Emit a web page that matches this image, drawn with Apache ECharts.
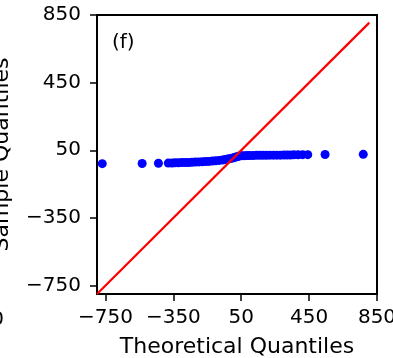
<!DOCTYPE html>
<html>
<head>
<meta charset="utf-8">
<script src="https://cdn.jsdelivr.net/npm/echarts@6/dist/echarts.min.js"></script>
<style>
html,body{margin:0;padding:0;background:#fff;}
#chart{width:393px;height:358px;}
</style>
</head>
<body>
<div id="chart"></div>
<script>
// Theoretical quantiles (x) and sample quantiles (y)
var theoretical = [-769, -534, -438, -380, -358, -340, -320, -300, -280, -260, -240, -220, -200, -180, -160, -140, -120, -100, -80, -60, -45, -30, -15, 0, 12, 25, 35, 45, 55, 70, 85, 100, 120, 140, 160, 180, 200, 220, 240, 260, 280, 300, 320, 340, 360, 385, 412, 442, 544, 769];
var sample = [-29, -28, -27, -26, -25, -24, -24, -23, -22, -22, -21, -20, -19, -18, -17, -16, -14, -12, -10, -8, -5, -2, 1, 4, 8, 12, 15, 17, 18, 18, 19, 19, 19, 20, 20, 20, 20, 21, 21, 21, 21, 22, 22, 22, 23, 23, 24, 24, 25, 26];
// reference line y = x
var refLineX = [-800, 805];
var refLineY = [-800, 805];
var xTicks = [-750, -350, 50, 450, 850];
var yTicks = [-750, -350, 50, 450, 850];
var xLabel = 'Theoretical Quantiles';
var yLabel = 'Sample Quantiles';
var panelTag = '(f)';

var pts = theoretical.map(function (x, i) { return [x, sample[i]]; });
var line = refLineX.map(function (x, i) { return [x, refLineY[i]]; });
var fam = 'DejaVu Sans';
function fmt(v) { return String(v).replace('-', '\u2212'); }

var chart = echarts.init(document.getElementById('chart'), null, {renderer: 'canvas'});
chart.setOption({
  animation: false,
  backgroundColor: '#ffffff',
  grid: {left: 97, right: 16, top: 15, bottom: 64, containLabel: false, outerBoundsMode: 'none', show: true, borderColor: '#000', borderWidth: 2, backgroundColor: 'transparent'},
  xAxis: {
    type: 'value', min: -800, max: 850,
    name: xLabel, nameLocation: 'middle', nameGap: 42,
    nameTextStyle: {fontFamily: fam, fontSize: 22, color: '#000'},
    axisLine: {show: true, onZero: false, lineStyle: {color: '#000', width: 2}},
    axisTick: {show: true, length: 7, customValues: xTicks, lineStyle: {color: '#000', width: 1.5}},
    axisLabel: {customValues: xTicks, formatter: fmt, margin: 14, fontFamily: fam, fontSize: 20, color: '#000'},
    splitLine: {show: false}
  },
  yAxis: {
    type: 'value', min: -800, max: 850,
    name: yLabel, nameLocation: 'middle', nameGap: 84, nameRotate: 90,
    nameTextStyle: {fontFamily: fam, fontSize: 22, color: '#000'},
    axisLine: {show: true, onZero: false, lineStyle: {color: '#000', width: 2}},
    axisTick: {show: true, length: 7, customValues: yTicks, lineStyle: {color: '#000', width: 1.5}},
    axisLabel: {customValues: yTicks, formatter: fmt, margin: 16, fontFamily: fam, fontSize: 20, color: '#000'},
    splitLine: {show: false}
  },
  graphic: [
    {type: 'text', left: 112, top: 33, style: {text: panelTag, fontFamily: fam, fontSize: 20, fill: '#000'}},
    {type: 'text', right: 389, top: 310, style: {text: '850', fontFamily: fam, fontSize: 20, fill: '#000'}}
  ],
  series: [
    {type: 'scatter', data: pts, symbolSize: 9, itemStyle: {color: '#0000ff', opacity: 1}, z: 2},
    {type: 'line', data: line, showSymbol: false, lineStyle: {color: '#ff0000', width: 2.2}, z: 3}
  ]
});
</script>
</body>
</html>
